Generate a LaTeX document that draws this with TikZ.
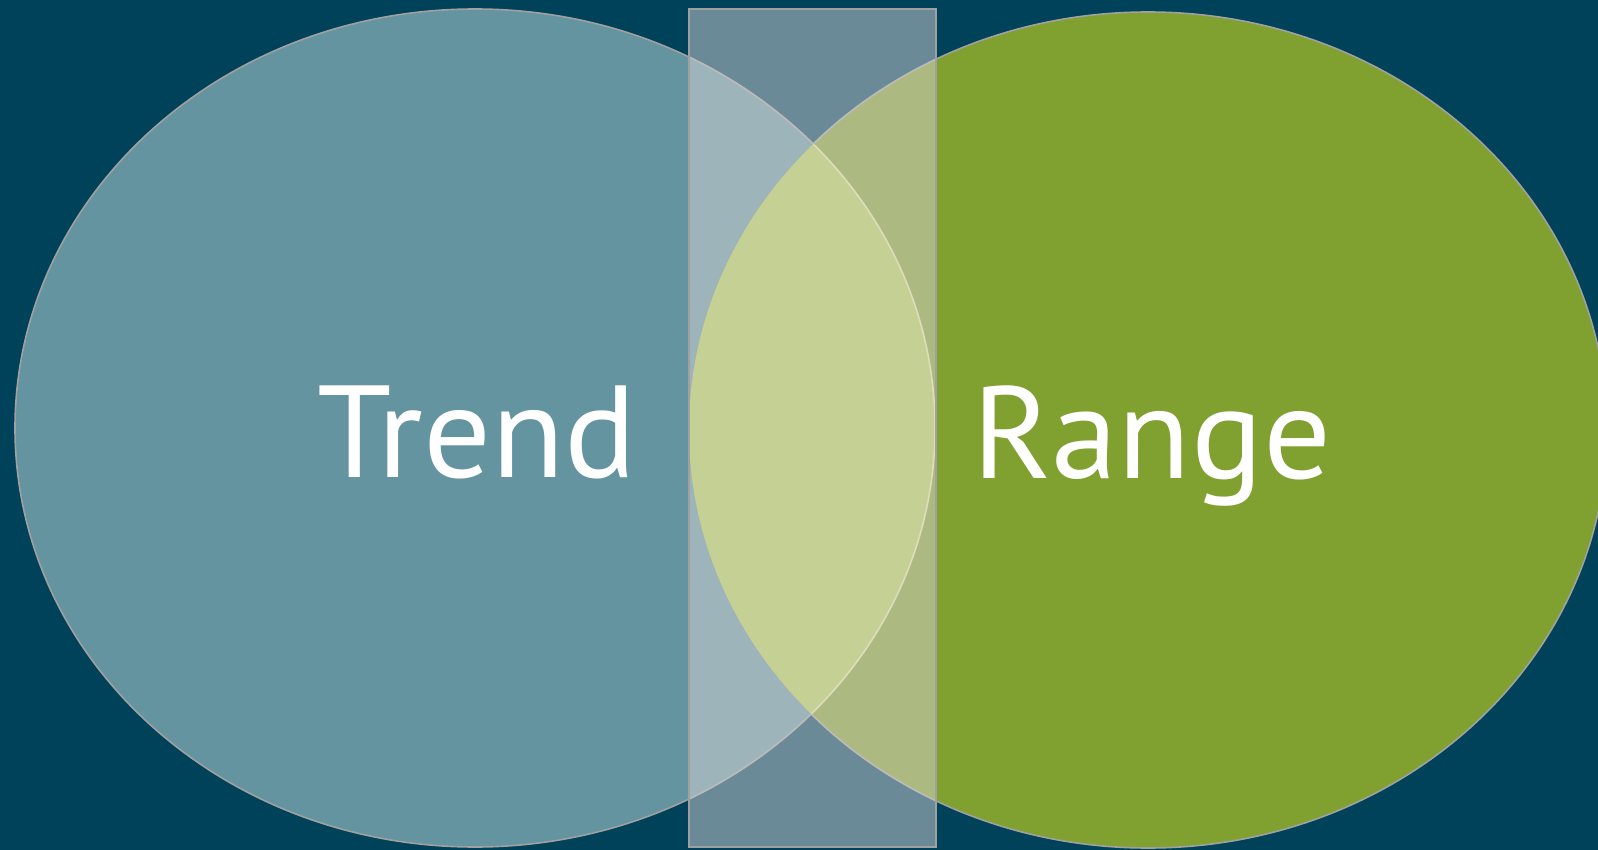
\documentclass[tikz,border=0pt]{standalone}
\usepackage{fontspec}
\newfontfamily\labelfont[FakeStretch=1.025]{PT Sans}
\definecolor{bgc}{RGB}{0,66,90}
\definecolor{leftc}{RGB}{99,148,160}
\definecolor{rightc}{RGB}{128,160,48}
\definecolor{lensc}{RGB}{177,202,87}
\definecolor{edgec}{RGB}{160,160,160}
\definecolor{lensedge}{RGB}{225,225,160}
\definecolor{rectc}{RGB}{220,215,216}
\tikzset{
  blob/.style={draw=edgec, line width=1.6pt},
  band/.style={fill=rectc, fill opacity=0.485, draw=edgec, draw opacity=1, line width=1.8pt},
  word/.style={text=white, font=\labelfont\fontsize{131}{131}\selectfont, inner sep=0pt, anchor=base}
}
\begin{document}
\begin{tikzpicture}[x=1pt,y=-1pt]
\fill[bgc] (0,0) rectangle (1598,850);
\useasboundingbox (0,0) rectangle (1598,850);
% left ellipse
\fill[leftc] (475,428) ellipse [x radius=460pt, y radius=419pt];
% right ellipse
\fill[rightc] (1148,430) ellipse [x radius=459pt, y radius=418pt];
% lens
\begin{scope}
  \clip (475,428) ellipse [x radius=460pt, y radius=419pt];
  \fill[lensc] (1148,430) ellipse [x radius=459pt, y radius=418pt];
\end{scope}
% outlines
\begin{scope}
  \clip (1148,430) ellipse [x radius=459pt, y radius=418pt];
  \draw[draw=lensedge, line width=1.6pt] (475,428) ellipse [x radius=460pt, y radius=419pt];
\end{scope}
\begin{scope}[even odd rule]
  \clip (0,0) rectangle (1598,850) (1148,430) ellipse [x radius=459pt, y radius=418pt];
  \draw[blob] (475,428) ellipse [x radius=460pt, y radius=419pt];
\end{scope}
\begin{scope}[even odd rule]
  \clip (0,0) rectangle (1598,850) (475,428) ellipse [x radius=460pt, y radius=419pt];
  \draw[blob] (1148,430) ellipse [x radius=459pt, y radius=418pt];
\end{scope}
% translucent band
\draw[band] (689.3,9.3) rectangle (936,846.7);
% labels
\node[word] (trend) at (477,477) {Trend};
\node[word] (range) at (1152,478) {Range};
\end{tikzpicture}
\end{document}
